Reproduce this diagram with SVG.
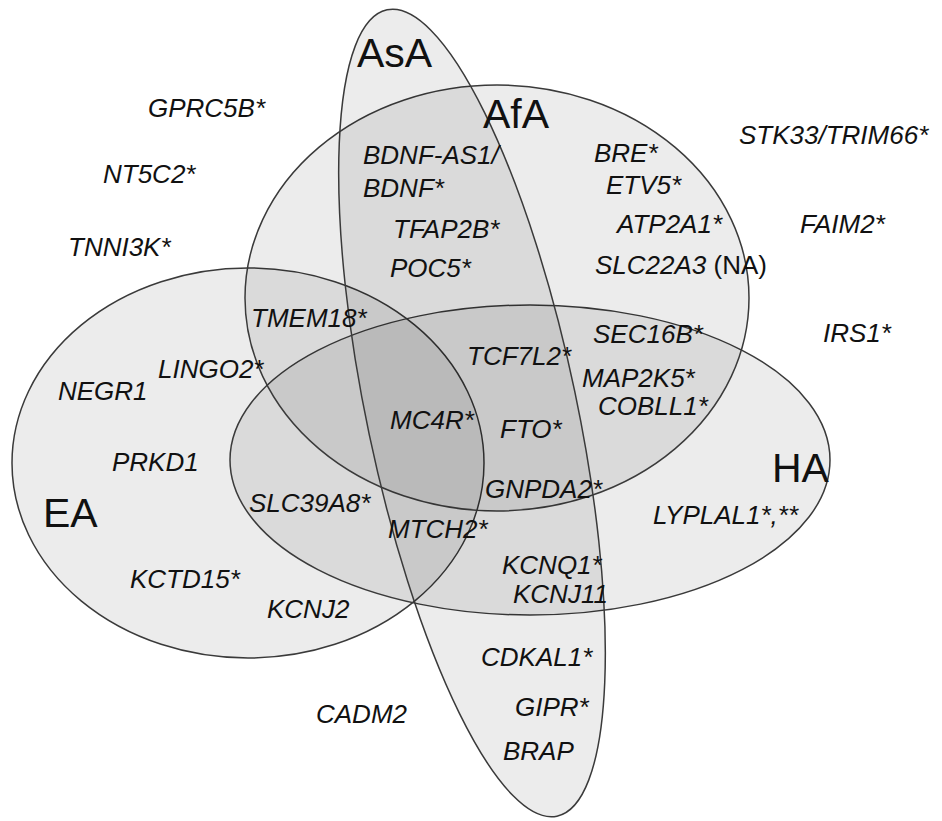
<svg xmlns="http://www.w3.org/2000/svg" width="942" height="821" viewBox="0 0 942 821">
<style>
.set{fill:#000;fill-opacity:0.075;stroke:#3a3a3a;stroke-width:1.5}
.g{font-family:"Liberation Sans",Arial,sans-serif;font-style:italic;font-size:26px;fill:#111}
.n{font-style:normal}
.lab{font-family:"Liberation Sans",Arial,sans-serif;font-size:41px;fill:#111}
</style>
<rect width="942" height="821" fill="#fff"/>
<g id="sets">
<ellipse id="EA" class="set" cx="248" cy="463" rx="236" ry="195"/>
<ellipse id="HA" class="set" cx="530" cy="460" rx="300" ry="155"/>
<ellipse id="AfA" class="set" cx="497" cy="298" rx="252" ry="213"/>
<ellipse id="AsA" class="set" cx="0" cy="0" rx="105" ry="412" transform="translate(472,413) rotate(-11.9)"/>
</g>
<g id="set-labels">
<text class="lab" x="357" y="67">AsA</text>
<text class="lab" x="483" y="128">AfA</text>
<text class="lab" x="772" y="482">HA</text>
<text class="lab" x="43" y="527">EA</text>
</g>
<g id="genes">
<text class="g" x="148" y="117">GPRC5B*</text>
<text class="g" x="103" y="183">NT5C2*</text>
<text class="g" x="68" y="256">TNNI3K*</text>
<text class="g" x="739" y="144">STK33/TRIM66*</text>
<text class="g" x="800" y="233">FAIM2*</text>
<text class="g" x="823" y="342">IRS1*</text>
<text class="g" x="363" y="164">BDNF-AS1/</text>
<text class="g" x="363" y="197">BDNF*</text>
<text class="g" x="393" y="238">TFAP2B*</text>
<text class="g" x="390" y="277">POC5*</text>
<text class="g" x="594" y="162">BRE*</text>
<text class="g" x="606" y="194">ETV5*</text>
<text class="g" x="617" y="233">ATP2A1*</text>
<text class="g" x="595" y="274">SLC22A3<tspan class="n"> (NA)</tspan></text>
<text class="g" x="593" y="343">SEC16B*</text>
<text class="g" x="582" y="387">MAP2K5*</text>
<text class="g" x="598" y="415">COBLL1*</text>
<text class="g" x="467" y="365">TCF7L2*</text>
<text class="g" x="390" y="429">MC4R*</text>
<text class="g" x="500" y="438">FTO*</text>
<text class="g" x="485" y="498">GNPDA2*</text>
<text class="g" x="653" y="524">LYPLAL1*,**</text>
<text class="g" x="251" y="327">TMEM18*</text>
<text class="g" x="158" y="378">LINGO2*</text>
<text class="g" x="58" y="400">NEGR1</text>
<text class="g" x="112" y="471">PRKD1</text>
<text class="g" x="249" y="512">SLC39A8*</text>
<text class="g" x="388" y="538">MTCH2*</text>
<text class="g" x="130" y="588">KCTD15*</text>
<text class="g" x="267" y="618">KCNJ2</text>
<text class="g" x="502" y="574">KCNQ1*</text>
<text class="g" x="513" y="603">KCNJ11</text>
<text class="g" x="481" y="666">CDKAL1*</text>
<text class="g" x="515" y="716">GIPR*</text>
<text class="g" x="503" y="760">BRAP</text>
<text class="g" x="316" y="723">CADM2</text>
</g>
</svg>
